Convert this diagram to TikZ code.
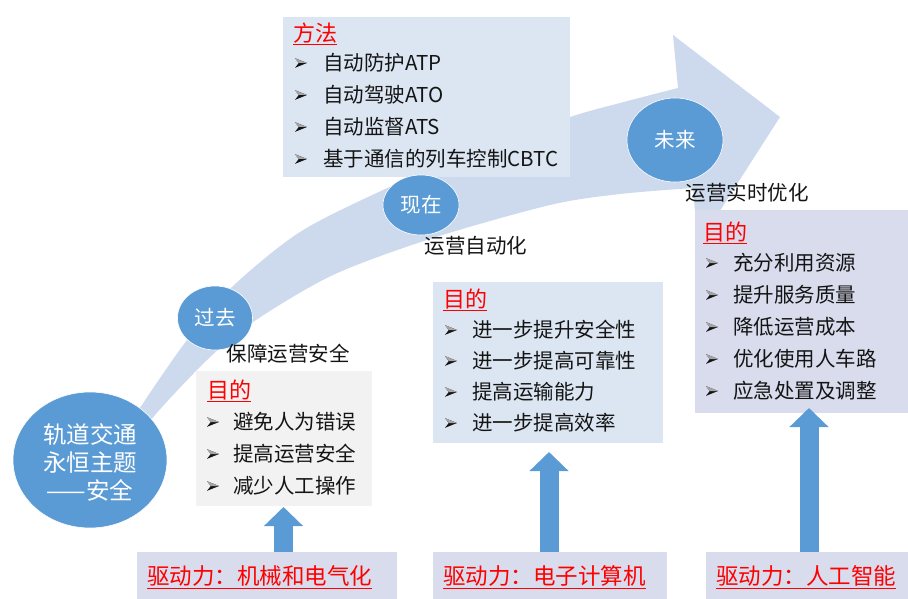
\documentclass[tikz,border=0pt]{standalone}
\usepackage{fontspec}
\setmainfont{Noto Sans CJK SC}
\usetikzlibrary{arrows.meta,shapes.geometric}
\definecolor{cblue}{HTML}{5B9BD5}
\definecolor{arrowlt}{HTML}{CDD9ED}
\definecolor{boxblue}{HTML}{DCE6F2}
\definecolor{boxgray}{HTML}{F2F2F2}
\definecolor{boxlav}{HTML}{D8DCEC}
\definecolor{tred}{HTML}{FF0000}
\definecolor{tdark}{HTML}{141414}
\begin{document}
\begin{tikzpicture}[x=1pt,y=-1pt,
  panel/.style={anchor=north west, inner sep=0pt, minimum width=#1},
  circ/.style={ellipse, fill=cblue, draw=white, line width=0.6pt, inner sep=0pt},
  ctext/.style={text=white, font=\fontsize{20.5}{24}\selectfont},
  lbl/.style={font=\fontsize{20.5}{24}\selectfont, text=tdark, inner sep=0pt},
  itm/.style={anchor=west, font=\fontsize{20.5}{24}\selectfont, text=tdark, inner sep=0pt},
  ttl/.style={anchor=west, font=\fontsize{22}{26}\selectfont, text=tred, inner sep=0pt},
  drv/.style={anchor=west, font=\fontsize{22.5}{26}\selectfont, text=tred, inner sep=0pt},
  uparrow/.style={draw=cblue, line width=19pt, -{Triangle[length=19pt,width=38pt]}},
  bulletpic/.pic={\fill[tdark] (-6,-4.8) -- (6,0) -- (-6,4.8) -- (-2.2,0) -- cycle;
                  \fill[gray!70] (-6,-4.8) -- (6,0) -- (-2.2,0) -- cycle;}
]
\useasboundingbox (0,0) rectangle (908,599);

% big curved arrow
\fill[arrowlt] plot[smooth] coordinates {(128,432) (140,408) (187,340) (232,287) (300,232) (383,190) (470,152) (570,117) (620,103) (678,88)}
  -- (673,35) -- (780,117) -- (698,245) -- (693,188)
  -- plot[smooth] coordinates {(693,188) (620,194) (550,205) (433,238) (333,275) (253,322) (207,360) (155,415) (138,440)} -- cycle;

% method box
\node[panel=287pt, minimum height=160pt, fill=boxblue] (mbox) at (283,17) {};
\node[ttl] (mt) at (293,34) {\underline{方法}};
\foreach \t [count=\i] in {自动防护ATP, 自动驾驶ATO, 自动监督ATS, 基于通信的列车控制CBTC}{
  \pic at (301,{31+32*\i}) {bulletpic};
  \node[itm] (mi\i) at (323,{31+32*\i}) {\t};
}

% circles
\node[circ, minimum width=154pt, minimum height=136pt] (main) at (90,460) {};
\node[ctext, align=center, font=\fontsize{23.5}{28}\selectfont] (maint) at (90,462) {轨道交通\\永恒主题\\——安全};
\node[circ, minimum width=75pt, minimum height=64pt] (past) at (215,318) {};
\node[ctext] (pastt) at (past.center) {过去};
\node[circ, minimum width=76pt, minimum height=60pt] (now) at (421,205) {};
\node[ctext] (nowt) at (now.center) {现在};
\node[circ, minimum width=96pt, minimum height=84pt] (fut) at (675,140) {};
\node[ctext] (futt) at (fut.center) {未来};

% stage labels
\node[lbl] (l1) at (288,354) {保障运营安全};
\node[lbl] (l2) at (476,246) {运营自动化};
\node[lbl] (l3) at (747,193) {运营实时优化};

% goal boxes
\node[panel=176pt, minimum height=135pt, fill=boxgray] (g1) at (196,371) {};
\node[ttl] (g1t) at (207,391) {\underline{目的}};
\foreach \t [count=\i] in {避免人为错误, 提高运营安全, 减少人工操作}{
  \pic at (213,{390+32*\i}) {bulletpic};
  \node[itm] (g1i\i) at (233,{390+32*\i}) {\t};
}
\node[panel=230pt, minimum height=161pt, fill=boxblue] (g2) at (433,282) {};
\node[ttl] (g2t) at (443,300) {\underline{目的}};
\foreach \t [count=\i] in {进一步提升安全性, 进一步提高可靠性, 提高运输能力, 进一步提高效率}{
  \pic at (451,{299+31*\i}) {bulletpic};
  \node[itm] (g2i\i) at (472,{299+31*\i}) {\t};
}
\node[panel=213pt, minimum height=203pt, fill=boxlav] (g3) at (695,210) {};
\node[ttl] (g3t) at (703,233) {\underline{目的}};
\foreach \t [count=\i] in {充分利用资源, 提升服务质量, 降低运营成本, 优化使用人车路, 应急处置及调整}{
  \pic at (712,{231+32*\i}) {bulletpic};
  \node[itm] (g3i\i) at (733,{231+32*\i}) {\t};
}

% driver boxes
\node[panel=260pt, minimum height=47pt, fill=boxlav] (d1) at (137,552) {};
\node[drv] (d1t) at (147,577) {\underline{驱动力：机械和电气化}};
\node[panel=234pt, minimum height=47pt, fill=boxlav] (d2) at (433,552) {};
\node[drv] (d2t) at (443,577) {\underline{驱动力：电子计算机}};
\node[panel=202pt, minimum height=47pt, fill=boxlav] (d3) at (706,552) {};
\node[drv] (d3t) at (716,577) {\underline{驱动力：人工智能}};

% up arrows
\coordinate (tA) at (283.5,507);
\coordinate (tB) at (549,452);
\coordinate (tC) at (809,408);
\draw[uparrow] (tA |- d1.north) -- (tA);
\draw[uparrow] (tB |- d2.north) -- (tB);
\draw[uparrow] (tC |- d3.north) -- (tC);
\end{tikzpicture}
\end{document}
